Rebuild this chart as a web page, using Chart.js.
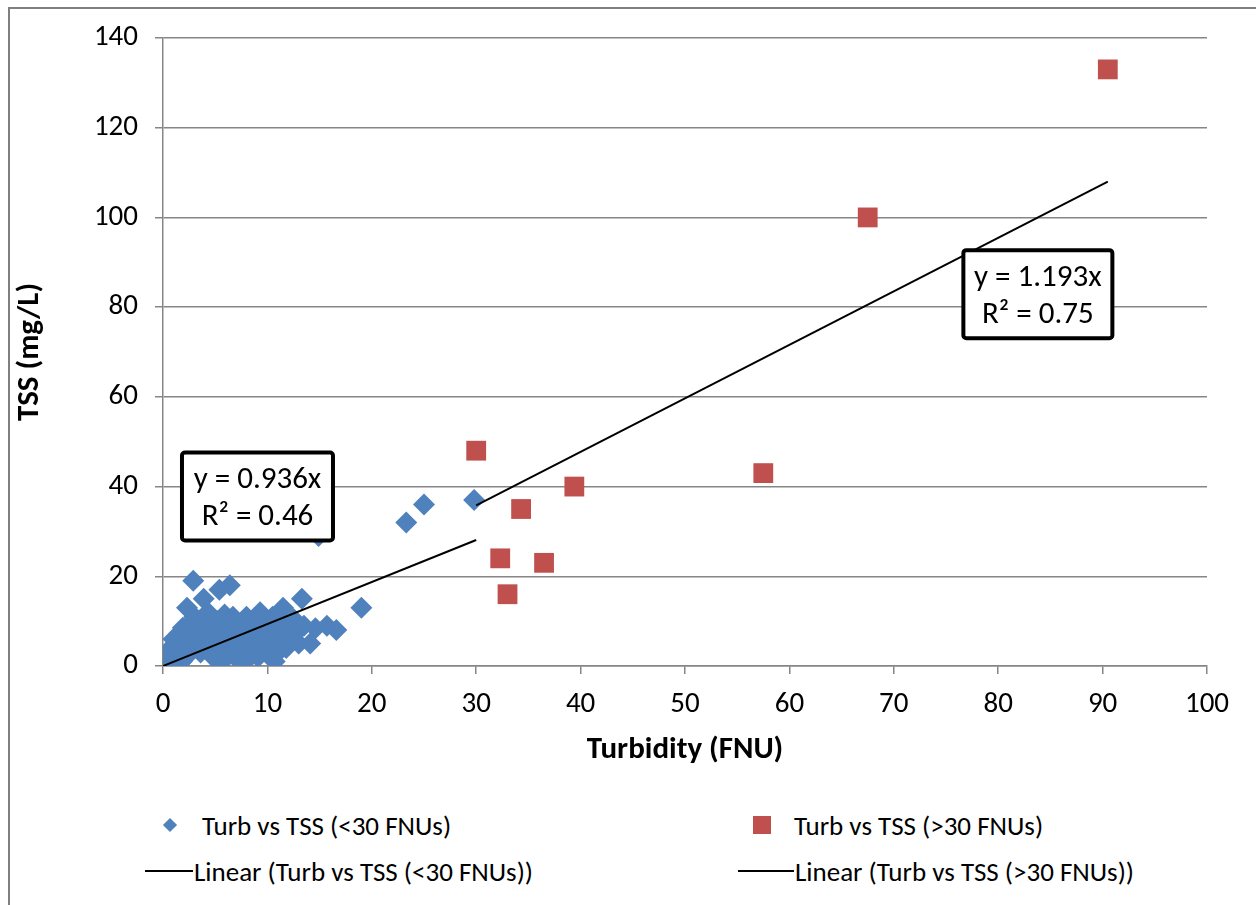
<!DOCTYPE html>
<html>
<head>
<meta charset="utf-8">
<script src="https://cdn.jsdelivr.net/npm/chart.js@4.4.0/dist/chart.umd.min.js"></script>
<style>
  html, body { margin: 0; padding: 0; background: #fff; overflow: hidden; }
  body { width: 1256px; height: 905px; position: relative; font-family: Carlito, Lato, sans-serif; }
  #marc { position: absolute; left: 8px; top: 7px; width: 1400px; height: 1000px; border: 2px solid #7f7f7f; }
  #grafic { position: absolute; left: 0; top: 0; }
  .llegenda { position: absolute; font-size: 27px; color: #000; white-space: nowrap; line-height: 1; transform: translateY(-50%); }
  .diamant { position: absolute; width: 10px; height: 10px; background: #4f81bd; transform: translate(-50%, -50%) rotate(45deg); }
  .quadrat { position: absolute; width: 18px; height: 18px; background: #c0504d; transform: translate(-50%, -50%); }
  .linia { position: absolute; height: 2px; background: #000; transform: translateY(-50%); }
</style>
</head>
<body>
<div id="marc"></div>
<canvas id="grafic" width="1256" height="790"></canvas>

<!-- llegenda -->
<div class="diamant" style="left:170px; top:825px"></div>
<div class="llegenda" style="left:202px; top:825px">Turb vs TSS (&lt;30 FNUs)</div>
<div class="quadrat" style="left:762px; top:825px"></div>
<div class="llegenda" style="left:794px; top:825px">Turb vs TSS (&gt;30 FNUs)</div>
<div class="linia" style="left:145px; width:48px; top:871px"></div>
<div class="llegenda" style="left:194px; top:871px">Linear (Turb vs TSS (&lt;30 FNUs))</div>
<div class="linia" style="left:738px; width:56px; top:871px"></div>
<div class="llegenda" style="left:795px; top:871px">Linear (Turb vs TSS (&gt;30 FNUs))</div>

<script>
/* Turbiditat vs TSS — dispersió amb dues rectes de tendència */

// mostres < 30 FNU
const turbBaixa = [
  0.1, 0.4, 0.6, 0.9, 1.1, 1.3, 1.5, 1.8, 2.0, 2.2,
  1.6, 2.4, 2.1, 1.9, 2.6, 2.3, 2.9, 3.0, 3.2, 3.4,
  3.6, 3.9, 3.3, 4.1, 4.4, 4.6, 4.8, 5.0, 5.2, 5.4,
  5.5, 5.7, 5.9, 6.0, 6.2, 6.4, 6.5, 6.7, 6.9, 7.1,
  7.3, 7.5, 7.7, 7.9, 8.1, 8.3, 8.5, 8.7, 8.9, 9.1,
  9.3, 9.4, 9.6, 9.8, 10.0, 10.2, 10.4, 10.7, 10.9, 11.2,
  11.5, 11.7, 11.8, 12.1, 12.5, 12.8, 13.3, 13.0, 14.1, 14.6,
  15.7, 16.6, 19.0, 14.9, 23.3, 25.0, 29.8, 0.3, 1.0, 2.7,
  3.7, 4.3, 5.8, 6.3, 7.0, 8.0, 9.0, 10.5, 11.0, 12.4, 13.5
];
const tssBaixa = [
  1, 0.5, 2, 1, 3, 1.5, 2.5, 1, 4, 2,
  5, 6, 7, 8.5, 9.5, 13, 19, 11, 8, 5,
  3, 15, 6.5, 7, 4, 9, 2, 6, 10, 17,
  4.5, 1, 11.5, 8, 3, 18, 6, 11, 2, 5,
  8.5, 3.5, 7, 1, 5, 7.6, 3, 9, 5.5, 2,
  12, 6.5, 4, 8, 3, 6, 8.5, 1, 5, 10,
  13, 7, 4, 6, 10.5, 7.6, 15, 5, 5, 8.4,
  9, 8, 13, 29, 32, 36, 37, 3, 6, 3.5,
  10, 12, 7, 9.5, 10, 11, 10, 11, 3, 8, 9
];

// mostres > 30 FNU
const turbAlta = [30.0, 32.3, 33.0, 34.3, 36.5, 39.4, 57.5, 67.5, 90.5];
const tssAlta  = [48, 24, 16, 35, 23, 40, 43, 100, 133];

// rectes de tendència (extrems llegits del gràfic)
const tendBaixaX = [0, 30];
const tendBaixaY = [0, 28.1];
const tendAltaX  = [30, 90.5];
const tendAltaY  = [35.8, 108];

const ticsX = [0, 10, 20, 30, 40, 50, 60, 70, 80, 90, 100];
const ticsY = [0, 20, 40, 60, 80, 100, 120, 140];

const equacions = [
  { linies: ['y = 0.936x', 'R² = 0.46'] },
  { linies: ['y = 1.193x', 'R² = 0.75'] },
];
// on va cada caixa (en unitats de dades) i la seva mida
const caixesPos = [
  { x: 9.05, y: 37.8, w: 151, h: 88 },
  { x: 83.8, y: 82.9, w: 149, h: 88 },
];

const FONT = 'Carlito, Lato, sans-serif';
const GRIS = '#868686';

const punts = (xs, ys) => xs.map((v, i) => ({ x: v, y: ys[i] }));

const caixesEquacio = {
  id: 'caixes-equacio',
  afterDatasetsDraw(chart) {
    const { ctx, scales: { x, y } } = chart;
    ctx.save();
    equacions.forEach((eq, i) => {
      const p = caixesPos[i];
      const cx = x.getPixelForValue(p.x);
      const cy = y.getPixelForValue(p.y);
      ctx.beginPath();
      ctx.roundRect(cx - p.w / 2, cy - p.h / 2, p.w, p.h, 3);
      ctx.fillStyle = '#fff';
      ctx.fill();
      ctx.lineWidth = 4;
      ctx.strokeStyle = '#000';
      ctx.stroke();
      ctx.fillStyle = '#000';
      ctx.font = '31px ' + FONT;
      ctx.textAlign = 'center';
      ctx.textBaseline = 'middle';
      ctx.fillText(eq.linies[0], cx, cy - 16);
      ctx.fillText(eq.linies[1], cx, cy + 21);
    });
    ctx.restore();
  }
};

new Chart(document.getElementById('grafic').getContext('2d'), {
  type: 'scatter',
  data: {
    datasets: [
      {
        data: punts(turbBaixa, tssBaixa),
        order: 2,
        pointStyle: 'rectRot',
        pointRadius: 11,
        backgroundColor: '#4f81bd',
        borderColor: '#4f81bd',
        borderWidth: 0,
      },
      {
        data: punts(turbAlta, tssAlta),
        order: 1,
        pointStyle: 'rect',
        pointRadius: 14,
        backgroundColor: '#c0504d',
        borderColor: '#c0504d',
        borderWidth: 0,
      },
      {
        data: punts(tendBaixaX, tendBaixaY),
        order: 0,
        showLine: true,
        pointRadius: 0,
        borderColor: '#000',
        borderWidth: 2,
      },
      {
        data: punts(tendAltaX, tendAltaY),
        order: 0,
        showLine: true,
        pointRadius: 0,
        borderColor: '#000',
        borderWidth: 2,
      },
    ]
  },
  options: {
    responsive: false,
    animation: false,
    events: [],
    layout: { padding: { left: 10, top: 38, right: 49, bottom: 0 } },
    plugins: {
      legend: { display: false },
      tooltip: { enabled: false },
    },
    scales: {
      x: {
        type: 'linear',
        min: 0,
        max: 100,
        afterFit: s => { s.height = 124; },
        afterBuildTicks: s => { s.ticks = ticsX.map(v => ({ value: v })); },
        ticks: { color: '#000', font: { family: FONT, size: 29 }, padding: 13, maxRotation: 0 },
        grid: { drawOnChartArea: false, drawTicks: true, tickLength: 8, color: GRIS, lineWidth: 1.5 },
        border: { color: GRIS, width: 1.5 },
        title: {
          display: true,
          text: 'Turbidity (FNU)',
          color: '#000',
          font: { family: FONT, size: 31, weight: 'bold' },
          padding: { top: 0, bottom: 21 },
        },
      },
      y: {
        type: 'linear',
        min: 0,
        max: 140,
        afterFit: s => { s.width = 153; },
        afterBuildTicks: s => { s.ticks = ticsY.map(v => ({ value: v })); },
        ticks: { color: '#000', font: { family: FONT, size: 29 }, padding: 17 },
        grid: { color: GRIS, lineWidth: 1.5, drawTicks: true, tickLength: 8 },
        border: { color: GRIS, width: 1.5 },
        title: {
          display: true,
          text: 'TSS (mg/L)',
          color: '#000',
          font: { family: FONT, size: 31, weight: 'bold' },
          padding: { top: 2, bottom: 0 },
        },
      }
    }
  },
  plugins: [caixesEquacio]
});
</script>
</body>
</html>
